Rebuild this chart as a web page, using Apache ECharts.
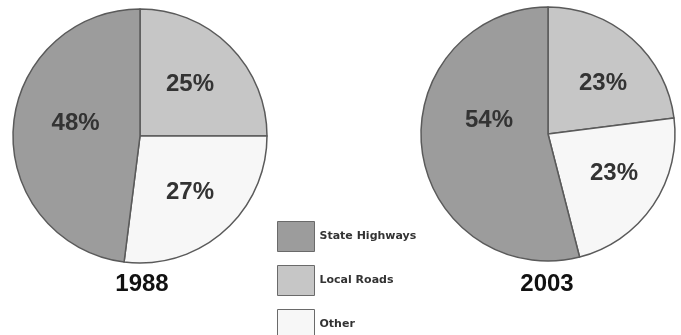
<!DOCTYPE html>
<html>
<head>
<meta charset="utf-8">
<script src="https://cdn.jsdelivr.net/npm/echarts@6/dist/echarts.min.js"></script>
<style>
  html, body { margin: 0; padding: 0; background: #fff; }
  #chart { width: 681px; height: 335px; }
</style>
</head>
<body>
<div id="chart"></div>
<script>
// Road spending shares by type, two survey years
const categories = ['Local Roads', 'Other', 'State Highways'];
const legendOrder = ['State Highways', 'Local Roads', 'Other'];
const years = ['1988', '2003'];
const share1988 = [25, 27, 48];
const share2003 = [23, 23, 54];

const fills = {
  'State Highways': '#9c9c9c',
  'Local Roads': '#c6c6c6',
  'Other': '#f7f7f7'
};

// nudges to place percentage labels inside each slice
const nudge1988 = [[3, -5], [6, 6], [2, -8]];
const nudge2003 = [[11, -1], [11, 2], [7, -22]];

function pieSeries(values, center, nudges) {
  return {
    type: 'pie',
    center: center,
    radius: 127,
    startAngle: 90,
    clockwise: true,
    silent: true,
    animation: false,
    itemStyle: { borderColor: '#5a5a5a', borderWidth: 1.5 },
    label: {
      show: true,
      position: 'inside',
      formatter: '{c}%',
      fontFamily: 'Liberation Sans, Arial, sans-serif',
      fontWeight: 'bold',
      fontSize: 24,
      color: '#333'
    },
    labelLine: { show: false },
    labelLayout: function (p) {
      const d = nudges[p.dataIndex];
      return { dx: d[0], dy: d[1] };
    },
    data: categories.map((name, i) => ({
      name: name,
      value: values[i],
      itemStyle: { color: fills[name] }
    }))
  };
}

const chart = echarts.init(document.getElementById('chart'), null, { renderer: 'canvas' });
chart.setOption({
  backgroundColor: '#ffffff',
  legend: {
    data: legendOrder,
    orient: 'vertical',
    left: 277,
    top: 221,
    height: 200,
    padding: 0,
    itemWidth: 37,
    itemHeight: 30,
    itemGap: 13,
    icon: 'rect',
    selectedMode: false,
    itemStyle: { borderColor: '#6a6a6a', borderWidth: 1 },
    textStyle: {
      fontFamily: 'DejaVu Sans, sans-serif',
      fontWeight: 'bold',
      fontSize: 11,
      color: '#333',
      padding: [3, 0, 0, 0]
    }
  },
  graphic: [
    {
      type: 'text', x: 142, y: 284,
      style: {
        text: years[0], align: 'center', verticalAlign: 'middle',
        font: 'bold 24px "Liberation Sans", Arial, sans-serif', fill: '#111'
      }
    },
    {
      type: 'text', x: 547, y: 284,
      style: {
        text: years[1], align: 'center', verticalAlign: 'middle',
        font: 'bold 24px "Liberation Sans", Arial, sans-serif', fill: '#111'
      }
    }
  ],
  series: [
    pieSeries(share1988, [140, 136], nudge1988),
    pieSeries(share2003, [548, 134], nudge2003)
  ]
});
</script>
</body>
</html>
